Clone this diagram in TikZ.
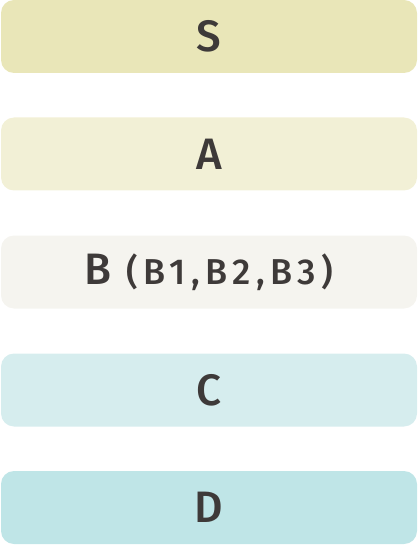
\documentclass[tikz,border=0pt]{standalone}
\usepackage{fontspec}
\setmainfont{Fira Sans}[UprightFont=* Medium]
\definecolor{cS}{HTML}{E9E6B8}
\definecolor{cA}{HTML}{F2F0D6}
\definecolor{cB}{HTML}{F5F4EF}
\definecolor{cC}{HTML}{D6EDEE}
\definecolor{cD}{HTML}{BFE5E7}
\definecolor{ink}{HTML}{3E3A39}
\tikzset{
  layer/.style={rounded corners=13pt, minimum width=416pt, minimum height=73pt, inner sep=0pt, text=ink, font=\fontsize{44}{44}\selectfont, anchor=center},
}
\begin{document}
\begin{tikzpicture}[x=1pt,y=-1pt]
\useasboundingbox (0,0) rectangle (418,545);
\node[layer, fill=cS] (S) at (209,36.5) {S};
\node[layer, fill=cA] (A) at (209,154) {A};
\node[layer, fill=cB] (B) at (209,272) {B\hspace{15pt}{\fontsize{36}{36}\selectfont\addfontfeatures{LetterSpace=15}(B1,B2,B3)}};
\node[layer, fill=cC] (C) at (209,390) {C};
\node[layer, fill=cD] (D) at (209,507.5) {D};
\end{tikzpicture}
\end{document}
